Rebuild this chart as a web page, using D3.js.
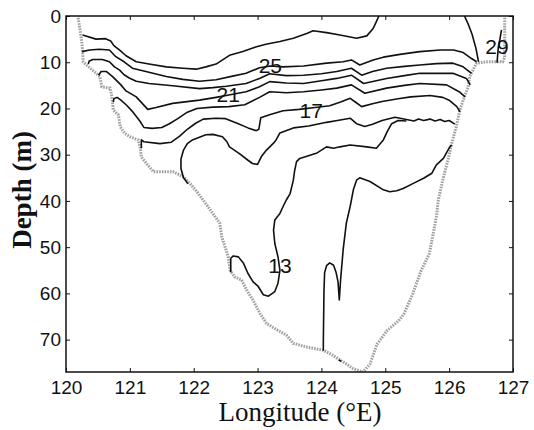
<!DOCTYPE html>
<html><head><meta charset="utf-8">
<title>Temperature section along the transect</title>
<script src="https://d3js.org/d3.v7.min.js"></script>
<style>
  body { margin: 0; background: #fff; }
  svg text { font-family: "Liberation Sans", Arial, sans-serif; fill: #111; }
  .contour { fill: none; stroke: #111; stroke-width: 1.6px; stroke-linejoin: round; }
  .bottom { fill: none; stroke: #a0a0a0; stroke-width: 3px; stroke-dasharray: 1.6 1.1; }
  .title { font-family: "Liberation Serif", "Times New Roman", serif; }
</style>
</head>
<body>
<svg id="chart" width="534" height="430"></svg>
<script>
// axis ticks
const lonTicks = [120, 121, 122, 123, 124, 125, 126, 127];
const depthTicks = [0, 10, 20, 30, 40, 50, 60, 70];

// isotherms, [longitude, depth]
const c29 = [[126.24,0],[126.30,1.8],[126.36,4.0],[126.42,7.0],[126.46,9.9]];
const c29b = [[126.82,3.0],[126.80,4.6],[126.77,6.8],[126.75,10.1]];
const c27 = [[120.26,4.1],[120.47,5.0],[120.62,4.9],[120.70,5.4],[120.75,6.4],[120.84,7.4],[120.94,8.6],
  [121.10,9.9],[121.30,10.4],[121.57,11.0],[121.83,11.3],[122.04,11.5],[122.19,11.0],[122.35,10.4],
  [122.56,8.5],[122.77,7.7],[122.97,6.7],[123.13,6.1],[123.35,5.5],[123.56,4.8],[123.77,3.8],[123.87,3.2],
  [124.08,3.6],[124.29,4.1],[124.55,4.8],[124.71,4.3],[124.81,2.7],[124.86,1.2],[124.90,0]];
const c25 = [[120.25,7.7],[120.37,7.35],[120.52,7.2],[120.68,7.35],[120.78,8.8],[120.91,9.9],[121.04,11.3],
  [121.25,12.0],[121.57,13.1],[121.83,13.7],[122.09,14.1],[122.35,13.8],[122.61,13.0],[122.82,12.4],
  [123.03,11.2],[123.2,10.8],[123.40,11.0],[123.72,10.8],[124.08,10.2],[124.34,9.9],[124.47,9.5],
  [124.6,10.6],[124.81,9.5],[124.97,8.9],[125.23,8.3],[125.54,7.7],[125.86,7.35],[126.07,7.35],
  [126.22,7.9],[126.35,9.2],[126.43,9.9]];
const c23 = [[120.35,10.4],[120.36,9.8],[120.42,9.4],[120.57,9.4],[120.68,9.9],[120.76,11.0],[120.84,11.7],
  [120.91,12.7],[120.99,13.4],[121.10,14.1],[121.30,14.6],[121.67,15.1],[122.09,15.7],[122.30,15.5],
  [122.51,15.2],[122.82,14.6],[123.03,13.5],[123.19,12.5],[123.45,12.9],[123.72,12.8],[124.0,12.5],
  [124.24,12.0],[124.47,11.3],[124.63,12.8],[124.8,12.0],[125.02,11.3],[125.30,10.9],[125.54,10.6],
  [125.8,10.3],[126.06,10.2],[126.22,11.0],[126.35,12.4]];
const c21 = [[120.51,12.8],[120.55,12.0],[120.63,12.0],[120.73,13.1],[120.86,14.9],[120.94,16.2],[121.10,17.5],
  [121.28,20.2],[121.41,19.8],[121.67,18.9],[122.09,18.2],[122.35,17.6],[122.55,17.1],[122.82,16.4],
  [123.03,15.3],[123.19,14.2],[123.45,14.5],[123.72,14.6],[124.0,14.0],[124.24,13.5],[124.47,12.8],
  [124.66,14.6],[125.02,13.5],[125.3,12.9],[125.54,12.4],[126.06,12.4],[126.27,13.5],[126.33,14.9]];
const c19 = [[120.74,18.6],[120.75,17.9],[120.80,17.6],[120.86,18.2],[120.95,19.3],[121.05,20.8],[121.15,22.6],
  [121.22,24.1],[121.35,24.3],[121.5,24.1],[121.62,23.3],[121.75,22.2],[121.9,20.8],[122.05,20.0],
  [122.3,19.7],[122.55,19.6],[122.8,19.2],[123.03,17.6],[123.19,16.4],[123.45,16.6],[123.72,16.4],
  [124.0,16.0],[124.24,15.6],[124.47,14.9],[124.68,16.7],[125.02,15.6],[125.3,15.0],[125.54,14.6],
  [125.96,14.9],[126.17,16.5],[126.25,17.5]];
const c17 = [[121.18,28.6],[121.18,26.8],[121.22,27.2],[121.47,27.6],[121.65,27.3],[121.78,26.0],[121.9,24.5],
  [122.03,23.2],[122.15,22.3],[122.35,22.1],[122.5,22.2],[122.68,23.2],[122.85,24.2],[122.98,24.8],
  [123.02,24.5],[123.05,22.0],[123.2,21.3],[123.4,20.5],[123.65,20.2],[123.9,19.8],[124.13,19.4],
  [124.3,18.6],[124.45,17.8],[124.53,18.6],[124.63,19.6],[124.8,19.0],[124.95,18.5],[125.2,17.9],
  [125.4,17.5],[125.7,17.2],[125.9,17.6],[126.0,18.2],[126.12,19.6],[126.17,20.7]];
const c15 = [[121.91,36.3],[121.84,35.0],[121.80,33.0],[121.80,31.0],[121.84,29.0],[121.9,27.6],[121.98,26.8],
  [122.19,25.7],[122.3,25.6],[122.45,26.1],[122.52,27.2],[122.56,28.3],[122.71,29.7],[122.85,31.2],
  [122.92,31.9],[123.0,32.1],[123.06,30.4],[123.14,29.0],[123.25,27.5],[123.29,26.8],[123.35,25.3],
  [123.56,24.2],[123.8,23.8],[124.08,23.0],[124.25,22.6],[124.45,22.1],[124.55,23.3],[124.68,23.9],
  [124.8,23.4],[124.95,22.6],[125.15,21.9],[125.33,22.4],[125.45,22.7],[125.52,22.3],[125.6,22.6],
  [125.7,22.3],[125.78,22.7],[125.86,22.4],[125.93,22.8],[126.0,22.6],[126.09,23.4]];
const c13 = [[122.58,55.4],[122.58,52.4],[122.62,51.9],[122.70,52.1],[122.78,53.5],[122.85,55.7],[122.93,57.5],
  [123.01,58.5],[123.09,60.3],[123.17,60.6],[123.27,59.6],[123.32,57.8],[123.35,55.0],[123.32,52.1],
  [123.27,49.2],[123.25,46.3],[123.27,44.1],[123.35,42.7],[123.40,41.2],[123.45,39.8],[123.51,38.4],
  [123.56,35.5],[123.58,33.5],[123.61,31.5],[123.66,30.8],[123.92,29.7],[124.08,28.3],[124.19,28.6],
  [124.29,28.3],[124.45,27.9],[124.71,28.3],[124.86,28.6],[124.97,26.8],[125.03,25.0],[125.1,23.3],
  [125.2,22.6],[125.33,22.7]];
const c11 = [[124.03,72.4],[124.03,70.1],[124.04,59.3],[124.05,55.5],[124.08,54.0],[124.13,53.4],[124.19,53.9],
  [124.23,55.5],[124.26,57.5],[124.28,61.4],[124.30,57.1],[124.34,50.6],[124.39,44.8],[124.45,41.2],
  [124.50,37.6],[124.55,35.5],[124.60,35.0],[124.76,35.8],[124.97,37.6],[125.07,38.0],[125.18,37.8],
  [125.28,37.3],[125.44,36.2],[125.60,35.1],[125.73,34.0],[125.80,32.2],[125.91,30.8],[126.01,28.3],
  [126.04,27.9]];
const cDot = [[124.27,74.4],[124.31,74.7]];
const contours = [c29, c29b, c27, c25, c23, c21, c19, c17, c15, c13, c11, cDot];

// contour labels
const labelText = ["25", "21", "17", "13", "29"];
const labelLon = [123.2, 122.54, 123.84, 123.35, 126.75];
const labelDepth = [10.6, 16.9, 20.4, 53.9, 6.6];

// sea bottom
const bottomLine = [[120.19,0.4],[120.22,3],[120.25,5.9],[120.27,9.9],[120.32,10.6],[120.45,12.1],[120.53,13.1],
  [120.56,15.3],[120.69,15.6],[120.72,17.5],[120.74,20.3],[120.82,21.4],[120.85,24.0],[120.92,25.4],
  [121.0,26.1],[121.13,26.8],[121.16,28.3],[121.18,30.5],[121.26,31.9],[121.37,33.7],[121.68,33.7],
  [121.84,34.8],[121.94,36.2],[122.05,38.0],[122.2,40.8],[122.3,42.7],[122.41,44.9],[122.44,47.8],
  [122.49,49.9],[122.54,52.1],[122.57,55.0],[122.64,56.4],[122.75,57.1],[122.83,59.3],[122.93,61.5],
  [123.04,64.4],[123.14,66.5],[123.27,67.6],[123.45,69.0],[123.56,70.8],[123.77,71.6],[124.03,72.3],
  [124.18,73.4],[124.34,74.8],[124.5,76.3],[124.65,77.0],[124.76,75.3],[124.87,71.0],[125.03,68.0],
  [125.21,65.9],[125.29,64.5],[125.43,60.1],[125.56,55.1],[125.69,51.4],[125.75,47.1],[125.8,43.4],
  [125.83,39.8],[125.90,35.5],[125.98,31.2],[126.04,27.6],[126.11,24.0],[126.17,20.3],[126.22,18.2],
  [126.30,15.3],[126.32,13.1],[126.43,10.2],[126.6,9.9],[126.84,9.9],[126.87,9.0],[126.87,0.4]];

const margin = {top: 16, left: 66};
const width = 447, height = 356;

const svg = d3.select("#chart");
const g = svg.append("g").attr("transform", `translate(${margin.left},${margin.top})`);

const x = d3.scaleLinear().domain([120, 127]).range([0, width]);
const y = d3.scaleLinear().domain([0, 77]).range([0, height]);

g.append("clipPath").attr("id", "plot-clip")
  .append("rect").attr("width", width).attr("height", height);

const line = d3.line().x(d => x(d[0])).y(d => y(d[1]));

const plot = g.append("g").attr("clip-path", "url(#plot-clip)");

plot.append("path").attr("class", "bottom").attr("d", line(bottomLine));

plot.selectAll(".contour").data(contours).enter()
  .append("path").attr("class", "contour").attr("d", line);

g.selectAll(".clabel").data(labelText).enter()
  .append("text").attr("class", "clabel")
  .attr("x", (d, i) => x(labelLon[i]))
  .attr("y", (d, i) => y(labelDepth[i]))
  .attr("dy", "0.36em")
  .attr("text-anchor", "middle")
  .style("font-size", "21px")
  .text(d => d);

// axes, ticks point inward like the original
function styleAxis(sel) {
  sel.select(".domain").remove();
  sel.selectAll(".tick line").attr("stroke", "#111");
  sel.selectAll(".tick text").style("font-size", "19px").attr("fill", "#111");
}

g.append("g").attr("transform", `translate(0,${height})`)
  .call(d3.axisBottom(x).tickValues(lonTicks).tickSize(-4).tickPadding(9).tickFormat(d3.format("d")))
  .call(styleAxis);
g.append("g")
  .call(d3.axisTop(x).tickValues(lonTicks).tickSize(-4).tickFormat(""))
  .call(styleAxis);
g.append("g")
  .call(d3.axisLeft(y).tickValues(depthTicks).tickSize(-4).tickPadding(5))
  .call(styleAxis);
g.append("g").attr("transform", `translate(${width},0)`)
  .call(d3.axisRight(y).tickValues(depthTicks).tickSize(-4).tickFormat(""))
  .call(styleAxis);

g.append("rect")
  .attr("width", width).attr("height", height)
  .attr("fill", "none").attr("stroke", "#111").attr("stroke-width", 1.5);

svg.append("text").attr("class", "title")
  .attr("x", 300).attr("y", 421)
  .attr("text-anchor", "middle")
  .style("font-size", "27px")
  .text("Longitude (°E)");

svg.append("text").attr("class", "title")
  .attr("transform", "translate(31,190) rotate(-90)")
  .attr("text-anchor", "middle")
  .style("font-size", "27px")
  .style("font-weight", "bold")
  .text("Depth (m)");
</script>
</body></html>
